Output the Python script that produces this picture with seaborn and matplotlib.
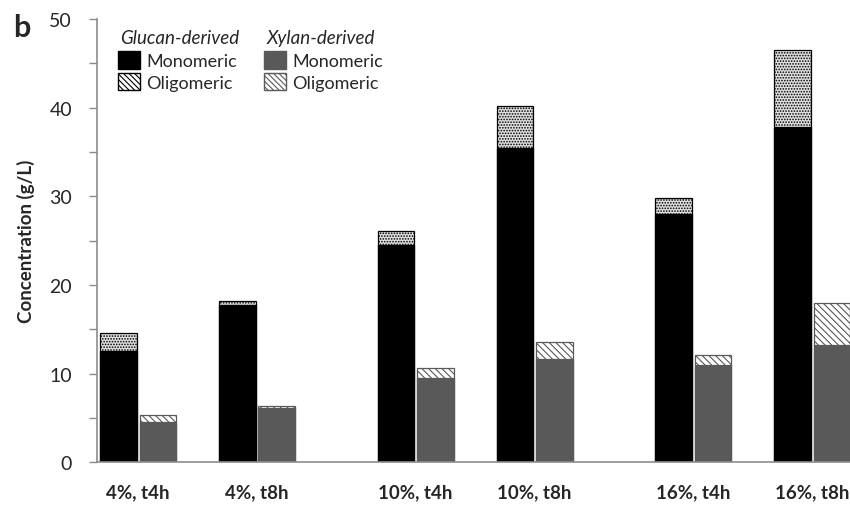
import matplotlib
matplotlib.use("Agg")
import matplotlib.pyplot as plt
from matplotlib.patches import Patch
from matplotlib.ticker import MultipleLocator
import numpy as np
import seaborn as sns

# Sugar concentrations (g/L) per solids loading / time point
categories = ["4%, t4h", "4%, t8h", "10%, t4h", "10%, t8h", "16%, t4h", "16%, t8h"]
glucan_monomeric = [12.5, 17.7, 24.5, 35.4, 28.0, 37.8]
glucan_total = [14.6, 18.2, 26.1, 40.2, 29.8, 46.5]
xylan_monomeric = [4.5, 6.1, 9.5, 11.7, 11.0, 13.2]
xylan_total = [5.3, 6.3, 10.6, 13.6, 12.1, 18.0]

sns.set_style("white")
plt.rcParams["font.family"] = ["Lato", "DejaVu Sans"]
plt.rcParams["hatch.linewidth"] = 0.8

AXIS_GREY = "#8c8c8c"
XYLAN_GREY = "#595959"
STIPPLE_FACE = "#e0e0e0"

# group centres: pairs of loadings separated by a wider gap
group_pos = np.array([0, 1, 7 / 3, 10 / 3, 14 / 3, 17 / 3])
offset = 0.166
bar_w = 0.307

fig = plt.figure(figsize=(8.5, 5.06), dpi=100)
ax = fig.add_axes([97 / 850, 1 - 463.3 / 506, 753 / 850, 443.3 / 506])

common = dict(native_scale=True, width=bar_w, errorbar=None, saturation=1, ax=ax)

# glucan: full height (oligomeric stipple) then monomeric part on top
sns.barplot(x=group_pos - offset, y=glucan_total, color=STIPPLE_FACE,
            hatch="......", edgecolor="black", linewidth=0.9, **common)
sns.barplot(x=group_pos - offset, y=glucan_monomeric, color="black",
            edgecolor="black", linewidth=0.9, **common)

# xylan: full height (oligomeric stripes) then monomeric part
sns.barplot(x=group_pos + offset, y=xylan_total, color="white",
            hatch="\\\\\\\\\\", edgecolor=XYLAN_GREY, linewidth=0.9, **common)
sns.barplot(x=group_pos + offset, y=xylan_monomeric, color=XYLAN_GREY,
            edgecolor=XYLAN_GREY, linewidth=0.9, **common)

ax.set_xlim(-0.345, 5.985)
ax.set_ylim(0, 50)

ax.set_xticks(group_pos)
ax.set_xticklabels(categories, fontsize=13.5, fontweight="bold")
ax.tick_params(axis="x", length=0, pad=15)

ax.yaxis.set_major_locator(MultipleLocator(10))
ax.yaxis.set_minor_locator(MultipleLocator(5))
ax.tick_params(axis="y", which="both", direction="out", length=6, width=1,
               color=AXIS_GREY, left=True, pad=12, labelsize=14)
ax.set_ylabel("Concentration (g/L)", fontsize=13.5, fontweight="bold", labelpad=10)
ax.set_xlabel("")

sns.despine(ax=ax, top=True, right=True)
for side in ("left", "bottom"):
    ax.spines[side].set_color(AXIS_GREY)
    ax.spines[side].set_linewidth(1.2)

# legend: two columns with italic headers
ax.text(0.031, 0.958, "Glucan-derived", transform=ax.transAxes, fontsize=13.5,
        fontstyle="italic", va="center", ha="left")
ax.text(0.225, 0.958, "Xylan-derived", transform=ax.transAxes, fontsize=13.5,
        fontstyle="italic", va="center", ha="left")

leg_kw = dict(loc="upper left", frameon=False, fontsize=13, borderpad=0,
              borderaxespad=0, handlelength=1.2, handleheight=1.1,
              handletextpad=0.35, labelspacing=0.22)
glucan_handles = [
    Patch(facecolor="black", edgecolor="black"),
    Patch(facecolor="white", edgecolor="black", hatch="\\\\\\\\\\\\"),
]
xylan_handles = [
    Patch(facecolor=XYLAN_GREY, edgecolor=XYLAN_GREY),
    Patch(facecolor="white", edgecolor=XYLAN_GREY, hatch="\\\\\\\\\\\\"),
]
leg1 = ax.legend(glucan_handles, ["Monomeric", "Oligomeric"],
                 bbox_to_anchor=(0.028, 0.927), **leg_kw)
ax.add_artist(leg1)
ax.legend(xylan_handles, ["Monomeric", "Oligomeric"],
          bbox_to_anchor=(0.222, 0.927), **leg_kw)

fig.text(0.016, 0.944, "b", fontsize=22, fontweight="bold", va="center", ha="left")

fig.savefig("out.png", dpi=100)
